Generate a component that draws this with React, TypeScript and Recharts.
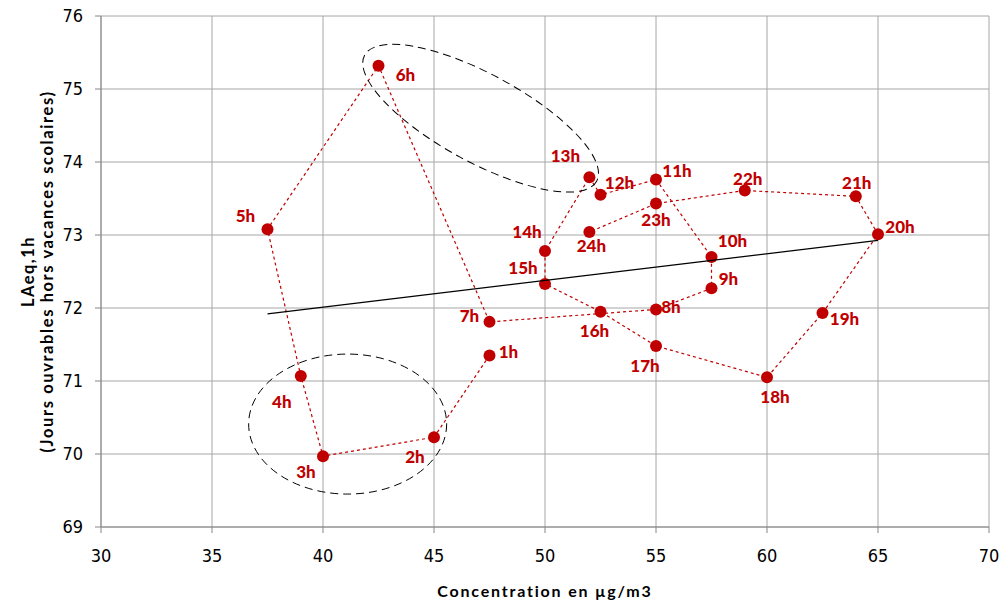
import { ScatterChart, Scatter, XAxis, YAxis, CartesianGrid, ReferenceDot } from 'recharts';

const hours = ['1h', '2h', '3h', '4h', '5h', '6h', '7h', '8h', '9h', '10h', '11h', '12h', '13h', '14h', '15h', '16h', '17h', '18h', '19h', '20h', '21h', '22h', '23h', '24h'];
const concentration = [47.5, 45, 40, 39, 37.5, 42.5, 47.5, 55, 57.5, 57.5, 55, 52.5, 52, 50, 50, 52.5, 55, 60, 62.5, 65, 64, 59, 55, 52];
const laeq = [71.35, 70.23, 69.97, 71.07, 73.08, 75.32, 71.81, 71.98, 72.27, 72.7, 73.76, 73.55, 73.79, 72.78, 72.33, 71.95, 71.48, 71.05, 71.93, 73.01, 73.53, 73.61, 73.43, 73.04];

const xTicks = [30, 35, 40, 45, 50, 55, 60, 65, 70];
const yTicks = [69, 70, 71, 72, 73, 74, 75, 76];

// highlighted groups (centre in data units)
const highlightX = [47.1, 41.11];
const highlightY = [74.6, 70.41];

// where each hour label sits relative to its dot (px)
const labelOffset: Record<string, [number, number]> = {
  '1h': [19, -4], '2h': [-19, 19], '3h': [-17, 15], '4h': [-19, 26], '5h': [-22, -14], '6h': [27, 9],
  '7h': [-20, -6], '8h': [15, -3], '9h': [17, -10], '10h': [21, -16], '11h': [21, -9], '12h': [19, -12],
  '13h': [-24, -22], '14h': [-18, -20], '15h': [-22, -16], '16h': [-6, 19], '17h': [-11, 20], '18h': [8, 19],
  '19h': [22, 5], '20h': [22, -8], '21h': [1, -14], '22h': [3, -12], '23h': [0, 16], '24h': [2, 13],
};
const ellipseSize: [number, number, number][] = [[132, 44, 28.5], [99, 70, 0]];

const RED = '#C00000';
const FONT = "'Liberation Sans Narrow', 'DejaVu Sans Condensed', Lato, sans-serif";
const LABEL_FONT = "Lato, 'Open Sans', sans-serif";

const points = hours.map((h, i) => ({ hour: h, x: concentration[i], y: laeq[i] }));

// linear trend line (least squares) across the data range
const n = points.length;
const mx = concentration.reduce((a, b) => a + b, 0) / n;
const my = laeq.reduce((a, b) => a + b, 0) / n;
const slope =
  points.reduce((s, p) => s + (p.x - mx) * (p.y - my), 0) /
  points.reduce((s, p) => s + (p.x - mx) * (p.x - mx), 0);
const xMin = Math.min(...concentration);
const xMax = Math.max(...concentration);
const trend = [
  { x: xMin, y: my + slope * (xMin - mx) },
  { x: xMax, y: my + slope * (xMax - mx) },
];

const PointShape = (props: any) => {
  const { cx, cy, payload } = props;
  const [dx, dy] = labelOffset[payload.hour] || [0, 0];
  return (
    <g>
      <circle cx={cx} cy={cy} r={6} fill={RED} />
      <text
        x={cx + dx}
        y={cy + dy}
        textAnchor="middle"
        dominantBaseline="central"
        fill={RED}
        fontFamily={LABEL_FONT}
        fontWeight={900}
        fontSize={17}
      >
        {payload.hour}
      </text>
    </g>
  );
};

const ellipseShape = (i: number) => (props: any) => {
  const [rx, ry, angle] = ellipseSize[i];
  const { cx, cy } = props;
  return (
    <ellipse
      cx={cx}
      cy={cy}
      rx={rx}
      ry={ry}
      transform={`rotate(${angle} ${cx} ${cy})`}
      fill="none"
      stroke="#000"
      strokeWidth={1}
      strokeDasharray="8 5"
    />
  );
};

const YTitle = (props: any) => {
  const vb = props.viewBox || { x: 0, y: 16, width: 101, height: 511 };
  const cy = vb.y + vb.height / 2;
  return (
    <g fontFamily={LABEL_FONT} fontWeight={700} fontSize={16.5} fill="#000">
      <text x={28} y={cy} transform={`rotate(-90 28 ${cy})`} textAnchor="middle" dominantBaseline="central" letterSpacing={1.5}>
        LAeq,1h
      </text>
      <text x={47} y={cy} transform={`rotate(-90 47 ${cy})`} textAnchor="middle" dominantBaseline="central" letterSpacing={1.6}>
        (Jours ouvrables hors vacances scolaires)
      </text>
    </g>
  );
};

const XTitle = (props: any) => {
  const vb = props.viewBox || { x: 101, y: 527, width: 888, height: 74 };
  return (
    <text
      x={vb.x + vb.width / 2}
      y={590}
      textAnchor="middle"
      dominantBaseline="central"
      fontFamily={LABEL_FONT}
      fontWeight={700}
      fontSize={16}
      letterSpacing={1.8}
      fill="#000"
    >
      Concentration en  µg/m3
    </text>
  );
};

export default function App() {
  return (
    <div style={{ position: 'absolute', left: 0, top: 0, width: 999, height: 601, background: '#fff' }}>
      <ScatterChart width={999} height={601} margin={{ top: 16, right: 10, left: 0, bottom: 0 }}>
        <CartesianGrid stroke="#a6a6a6" strokeWidth={1} />
        <XAxis
          type="number"
          dataKey="x"
          domain={[30, 70]}
          ticks={xTicks}
          height={74}
          tickSize={6}
          tickMargin={16}
          axisLine={{ stroke: '#868686' }}
          tickLine={{ stroke: '#868686' }}
          tick={{ fill: '#000', fontSize: 18, fontFamily: FONT }}
          label={{ content: XTitle }}
          allowDataOverflow
        />
        <YAxis
          type="number"
          dataKey="y"
          domain={[69, 76]}
          ticks={yTicks}
          width={101}
          tickSize={6}
          tickMargin={12}
          axisLine={{ stroke: '#868686' }}
          tickLine={{ stroke: '#868686' }}
          tick={{ fill: '#000', fontSize: 18, fontFamily: FONT }}
          label={{ content: YTitle }}
          allowDataOverflow
        />
        <Scatter
          data={points}
          line={{ stroke: RED, strokeWidth: 1.2, strokeDasharray: '3 3' }}
          lineType="joint"
          shape={PointShape}
          isAnimationActive={false}
        />
        <Scatter
          data={trend}
          line={{ stroke: '#000', strokeWidth: 1.2 }}
          lineType="joint"
          shape={() => <g />}
          isAnimationActive={false}
        />
        {highlightX.map((hx, i) => (
          <ReferenceDot key={i} x={hx} y={highlightY[i]} r={1} shape={ellipseShape(i)} />
        ))}
      </ScatterChart>
    </div>
  );
}
